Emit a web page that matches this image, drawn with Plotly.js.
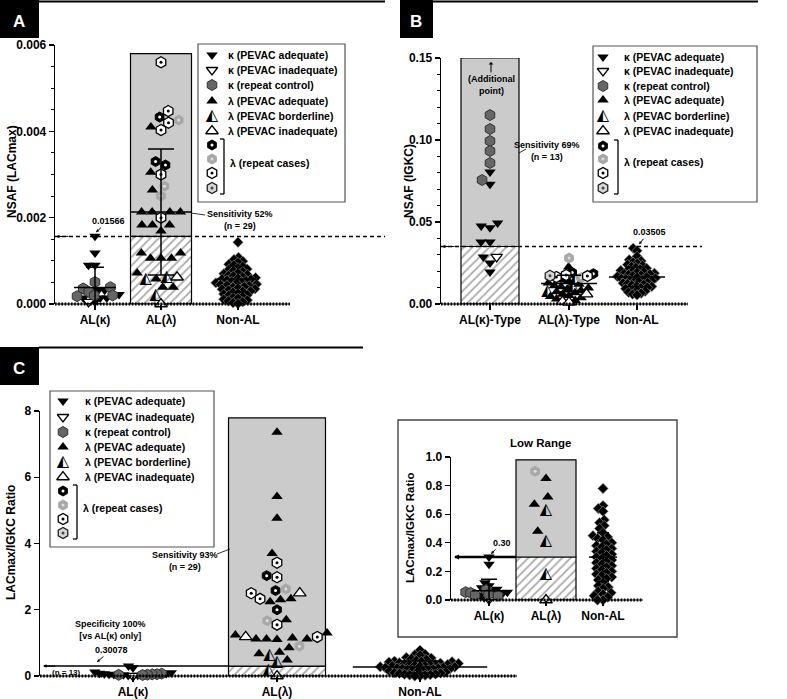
<!DOCTYPE html>
<html><head><meta charset="utf-8">
<script src="https://cdn.plot.ly/plotly-3.0.1.min.js"></script>
<style>body{margin:0;background:#fff}#chart{width:787px;height:699px}</style>
</head><body><div id="chart"></div>
<script>
// ---------------- DATA ----------------
const catsA = ['AL(κ)', 'AL(λ)', 'Non-AL'];
const catsB = ['AL(κ)-Type', 'AL(λ)-Type', 'Non-AL'];
const catsC = ['AL(κ)', 'AL(λ)', 'Non-AL'];

// Panel A : NSAF (LACmax)
const aKapAdq = [0.00157, 0.00118, 0.00090, 0.00090, 0.00032, 0.00032, 0.00022, 0.00014, 0.00014, 0.00014, 0.00005];
const aKapInad = [0.00005];
const aKapRep = [0.00051, 0.00039, 0.00036, 0.00028, 0.00020, 0.00020, 0.00018];
const aLamAdq = [0.00410, 0.00305, 0.00264, 0.00213, 0.00213, 0.00213, 0.00213, 0.00183, 0.00183, 0.00183, 0.00169,
                 0.00118, 0.00118, 0.00106, 0.00106, 0.00106, 0.00072, 0.00058, 0.00039, 0.00039];
const aLamBord = [0.00058, 0.00062, 0.00021];
const aLamInad = [0.00062, 0.00000];
const aLamRepBlack = [0.00433, 0.00330, 0.00322];
const aLamRepLight = [0.00426, 0.00273, 0.00250];
const aLamRepWhite = [0.00560, 0.00447, 0.00420, 0.00403, 0.00300, 0.00200];
const aLamRepGray = [];
const aNonAL = [0.00143, 0.00108, 0.00103, 0.00099, 0.00096, 0.00092, 0.00090, 0.00087, 0.00084, 0.00081, 0.00079,
                0.00077, 0.00075, 0.00072, 0.00070, 0.00068, 0.00066, 0.00065, 0.00063, 0.00061, 0.00060, 0.00058,
                0.00057, 0.00055, 0.00054, 0.00052, 0.00051, 0.00049, 0.00048, 0.00046, 0.00045, 0.00043, 0.00042,
                0.00040, 0.00039, 0.00037, 0.00035, 0.00034, 0.00032, 0.00030, 0.00029, 0.00027, 0.00025, 0.00023,
                0.00021, 0.00019, 0.00017, 0.00015, 0.00013, 0.00011, 0.00009, 0.00007, 0.00005, 0.00003, 0.00001];
const aThreshold = 0.001566;
const aBoxTop = 0.0058;
const aMean = [0.00038, 0.00213, 0.00058];
const aSD = [0.00047, 0.00146, 0.00030];

// Panel B : NSAF (IGKC)
const bKapAdq = [0.0805, 0.0730, 0.0494, 0.0476, 0.0465, 0.0378, 0.0378, 0.0287, 0.0250, 0.0195];
const bKapInad = [0.0287];
const bKapRep = [0.1152, 0.1067, 0.0994, 0.0933, 0.0860, 0.0756];
const bLamAdq = [0.0225, 0.0146, 0.0140, 0.0128, 0.0120, 0.0112, 0.0105, 0.0098, 0.0090, 0.0082, 0.0075, 0.0068,
                 0.0060, 0.0052, 0.0045, 0.0038, 0.0030, 0.0022];
const bLamBord = [0.0150, 0.0110, 0.0080];
const bLamInad = [0.0060, 0.0015, 0.0010];
const bLamRepBlack = [0.0192, 0.0185];
const bLamRepLight = [0.0280, 0.0160];
const bLamRepWhite = [0.0177, 0.0170, 0.0165];
const bLamRepGray = [0.0172];
const bNonAL = [0.0340, 0.0325, 0.0290, 0.0270, 0.0262, 0.0255, 0.0248, 0.0240, 0.0235, 0.0228, 0.0222, 0.0218,
                0.0212, 0.0208, 0.0204, 0.0200, 0.0196, 0.0192, 0.0188, 0.0185, 0.0182, 0.0178, 0.0175, 0.0172,
                0.0168, 0.0165, 0.0162, 0.0158, 0.0155, 0.0152, 0.0148, 0.0145, 0.0142, 0.0138, 0.0135, 0.0131,
                0.0127, 0.0123, 0.0119, 0.0115, 0.0111, 0.0107, 0.0102, 0.0098, 0.0093, 0.0088, 0.0083, 0.0078,
                0.0072, 0.0066, 0.0060, 0.0055];
const bThreshold = 0.03505;
const bBoxTop = 0.15;
const bMean = [null, 0.0125, 0.0165];
const bSD = [null, 0.0050, 0.0060];

// Panel C : LACmax/IGKC ratio
const cKapAdq = [0.301, 0.250, 0.120, 0.100, 0.085, 0.075, 0.065, 0.055, 0.045, 0.035, 0.025, 0.015];
const cKapInad = [0.005];
const cKapRep = [0.070, 0.055, 0.050, 0.040, 0.035, 0.030];
const cLamAdq = [7.36, 5.42, 4.76, 3.70, 2.33, 2.30, 2.24, 1.70, 1.30, 1.24, 1.15, 1.12, 1.12, 1.12, 1.10,
                 0.85, 0.72, 0.67, 0.48];
const cLamBord = [0.63, 0.41, 0.18];
const cLamInad = [2.50, 1.18, 0.00];
const cLamRepBlack = [3.03, 2.58, 2.00];
const cLamRepLight = [2.63, 1.67, 0.90];
const cLamRepWhite = [3.42, 2.98, 2.50, 2.33, 1.55, 1.18];
const cLamRepGray = [];
const cNonAL = [0.78, 0.66, 0.64, 0.62, 0.56, 0.54, 0.52, 0.50, 0.47, 0.45, 0.44, 0.43, 0.42, 0.40, 0.39, 0.38,
                0.37, 0.36, 0.35, 0.34, 0.33, 0.32, 0.31, 0.30, 0.29, 0.28, 0.27, 0.26, 0.25, 0.24, 0.23, 0.22,
                0.21, 0.20, 0.19, 0.18, 0.17, 0.16, 0.15, 0.14, 0.12, 0.10, 0.09, 0.08, 0.06, 0.05, 0.04, 0.03,
                0.02, 0.00, 0.00];
const cThreshold = 0.30078;
const cBoxTop = 7.79;
const cMean = [null, null, 0.27];
const cSD = [null, null, 0.18];
const iBoxTop = 0.98;
const iMean = [0.065, null, 0.30];
const iSD = [0.08, null, 0.17];

// ---------------- LAYOUT HELPERS ----------------
const W = 787, H = 699;
const FF = 'Liberation Sans, Arial, sans-serif';
const PAN = {
  A: {x: 'x',  y: 'y',  xPx: [55, 387],  yPx: [45, 304],  yr: [0, 0.006], cats: [95, 161, 238], baseEnd: 290, barW: 61, fmt: '.3f', dt: 0.002, mdt: 0.0005, errW: [30, 43, 30], cap: [9, 13, 9]},
  B: {x: 'x2', y: 'y2', xPx: [441, 760], yPx: [58, 304],  yr: [0, 0.15],  cats: [490, 569, 637], baseEnd: 688, barW: 58, fmt: '.2f', dt: 0.05, mdt: 0.01, errW: [30, 40, 40], cap: [9, 12, 12]},
  C: {x: 'x3', y: 'y3', xPx: [40, 787],  yPx: [411, 676], yr: [0, 8],     cats: [133, 277, 420], baseEnd: 517, barW: 97, fmt: 'd', dt: 2, mdt: null, errW: [60, 60, 96], cap: [12, 12, 20]},
  I: {x: 'x4', y: 'y4', xPx: [451, 677], yPx: [457, 600], yr: [0, 1.0],   cats: [489, 546, 603], baseEnd: 643, barW: 60, fmt: '.1f', dt: 0.2, mdt: null, errW: [24, 24, 20], cap: [8, 8, 6]}
};
function ppu(P) { return (P.yPx[1] - P.yPx[0]) / (P.yr[1] - P.yr[0]); }
function ypx(P, v) { return P.yPx[1] - (v - P.yr[0]) * ppu(P); }

const ST = {
  kAdq:  {symbol: 'triangle-down', color: '#000', line: {color: '#000', width: 0}, size: 10},
  kInad: {symbol: 'triangle-down', color: '#fff', line: {color: '#000', width: 1.3}, size: 10},
  kRep:  {symbol: 'hexagon', color: '#666', line: {color: '#333', width: 1}, size: 11},
  lAdq:  {symbol: 'triangle-up', color: '#000', line: {color: '#000', width: 0}, size: 10},
  lBord: {glyph: '◭', size: 16},
  lInad: {symbol: 'triangle-up', color: '#fff', line: {color: '#000', width: 1.3}, size: 11},
  hBlack:{symbol: 'hexagon', color: '#000', line: {color: '#000', width: 1}, size: 10, dot: '#fff'},
  hLight:{symbol: 'hexagon', color: '#a8a8a8', line: {color: '#a8a8a8', width: 1}, size: 10, dot: '#dedede'},
  hWhite:{symbol: 'hexagon', color: '#fff', line: {color: '#000', width: 1.3}, size: 11, dot: '#000'},
  hGray: {symbol: 'hexagon', color: '#d6d6d6', line: {color: '#222', width: 1.3}, size: 11, dot: '#444'},
  dia:   {symbol: 'diamond', color: '#000', line: {color: '#9a9a9a', width: 0.6}, size: 8}
};

const traces = [];
function mk(xs, ys, st, xa, ya) {
  if (!xs.length) return;
  if (st.glyph) {
    traces.push({type: 'scatter', mode: 'text', x: xs, y: ys, xaxis: xa, yaxis: ya, text: xs.map(() => st.glyph),
      textposition: 'middle center', textfont: {family: 'DejaVu Sans', size: st.size, color: '#000'},
      cliponaxis: false, hoverinfo: 'skip'});
    return;
  }
  traces.push({type: 'scatter', mode: 'markers', x: xs, y: ys, xaxis: xa, yaxis: ya, cliponaxis: false, hoverinfo: 'skip',
    marker: {symbol: st.symbol, size: st.size, color: st.color, line: st.line}});
  if (st.dot) traces.push({type: 'scatter', mode: 'markers', x: xs, y: ys, xaxis: xa, yaxis: ya, cliponaxis: false, hoverinfo: 'skip',
    marker: {symbol: 'circle', size: 3, color: st.dot, line: {width: 0}}});
}

// simple beeswarm: returns horizontal pixel offsets
function swarm(vals, k, d) {
  const idx = vals.map((v, i) => i).sort((a, b) => vals[a] - vals[b]);
  const placed = [], off = new Array(vals.length);
  for (const i of idx) {
    const y = vals[i] * k;
    const near = placed.filter(p => Math.abs(p.y - y) < d);
    const cands = [0];
    near.forEach(p => { const dx = Math.sqrt(d * d - (p.y - y) * (p.y - y)); cands.push(p.x + dx, p.x - dx); });
    cands.sort((a, b) => Math.abs(a) - Math.abs(b) || a - b);
    const best = cands.find(c => near.every(p => (p.x - c) ** 2 + (p.y - y) ** 2 >= d * d - 1e-6));
    off[i] = best; placed.push({x: best, y});
  }
  return off;
}
function group(P, ci, d, series) {
  const all = [];
  series.forEach((s, si) => s[0].forEach(v => all.push({v, si})));
  const off = swarm(all.map(a => a.v), ppu(P), d);
  series.forEach((s, si) => {
    const xs = [], ys = [];
    all.forEach((a, i) => { if (a.si === si) { xs.push(P.cats[ci] + off[i]); ys.push(a.v); } });
    mk(xs, ys, ST[s[1]], P.x, P.y);
  });
}
function boxBars(P, ci, thr, top) {
  traces.push({type: 'bar', x: [P.cats[ci]], y: [thr], base: [0], width: [P.barW], xaxis: P.x, yaxis: P.y, hoverinfo: 'skip',
    marker: {color: '#fff', pattern: {shape: '/', fgcolor: '#a9a9a9', bgcolor: '#fff', size: 6, solidity: 0.3}, line: {color: '#000', width: 1.2}}});
  traces.push({type: 'bar', x: [P.cats[ci]], y: [top - thr], base: [thr], width: [P.barW], xaxis: P.x, yaxis: P.y, hoverinfo: 'skip',
    marker: {color: '#cbcbcb', line: {color: '#000', width: 1.2}}});
}
function errs(P, means, sds) {
  means.forEach((m, i) => {
    if (m === null) return;
    traces.push({type: 'scatter', mode: 'markers', x: [P.cats[i]], y: [m], xaxis: P.x, yaxis: P.y, cliponaxis: false, hoverinfo: 'skip',
      marker: {symbol: 'line-ew', size: P.errW[i], color: '#000', line: {color: '#000', width: 1.5}},
      error_y: {type: 'data', array: [sds[i]], arrayminus: [Math.min(sds[i], m)], width: P.cap[i], thickness: 1.5, color: '#000'}});
  });
}
const lim = (arr, m) => arr.filter(v => v <= m);

// bars
boxBars(PAN.A, 1, aThreshold, aBoxTop);
boxBars(PAN.B, 0, bThreshold, bBoxTop);
boxBars(PAN.C, 1, cThreshold, cBoxTop);
boxBars(PAN.I, 1, cThreshold, iBoxTop);

// points
group(PAN.A, 0, 6.5, [[aKapAdq, 'kAdq'], [aKapInad, 'kInad'], [aKapRep, 'kRep']]);
group(PAN.A, 1, 10.5, [[aLamAdq, 'lAdq'], [aLamBord, 'lBord'], [aLamInad, 'lInad'], [aLamRepBlack, 'hBlack'], [aLamRepLight, 'hLight'], [aLamRepWhite, 'hWhite'], [aLamRepGray, 'hGray']]);
group(PAN.A, 2, 5, [[aNonAL, 'dia']]);

group(PAN.B, 0, 9, [[bKapAdq, 'kAdq'], [bKapInad, 'kInad'], [bKapRep, 'kRep']]);
group(PAN.B, 1, 6.5, [[bLamAdq, 'lAdq'], [bLamBord, 'lBord'], [bLamInad, 'lInad'], [bLamRepBlack, 'hBlack'], [bLamRepLight, 'hLight'], [bLamRepWhite, 'hWhite'], [bLamRepGray, 'hGray']]);
group(PAN.B, 2, 4.5, [[bNonAL, 'dia']]);

group(PAN.C, 0, 4.8, [[cKapAdq, 'kAdq'], [cKapInad, 'kInad'], [cKapRep, 'kRep']]);
group(PAN.C, 1, 10.5, [[cLamAdq, 'lAdq'], [cLamBord, 'lBord'], [cLamInad, 'lInad'], [cLamRepBlack, 'hBlack'], [cLamRepLight, 'hLight'], [cLamRepWhite, 'hWhite'], [cLamRepGray, 'hGray']]);
group(PAN.C, 2, 5.2, [[cNonAL, 'dia']]);

group(PAN.I, 0, 5, [[cKapAdq, 'kAdq'], [cKapInad, 'kInad'], [cKapRep, 'kRep']]);
group(PAN.I, 1, 13, [[lim(cLamAdq, 1), 'lAdq'], [lim(cLamBord, 1), 'lBord'], [lim(cLamInad, 1), 'lInad'], [lim(cLamRepBlack, 1), 'hBlack'], [lim(cLamRepLight, 1), 'hLight'], [lim(cLamRepWhite, 1), 'hWhite']]);
group(PAN.I, 2, 5.5, [[cNonAL, 'dia']]);

errs(PAN.A, aMean, aSD);
errs(PAN.B, bMean, bSD);
errs(PAN.C, cMean, cSD);
errs(PAN.I, iMean, iSD);

// ---------------- SHAPES / ANNOTATIONS ----------------
const shapes = [], ann = [];
const L = (x0, y0, x1, y1, w, c, dash) => shapes.push({type: 'line', xref: 'x9', yref: 'y9', x0, y0, x1, y1, layer: 'above', line: {color: c || '#000', width: w || 1, dash: dash || 'solid'}});
const R = (x0, y0, x1, y1, fill, lc, lw) => shapes.push({type: 'rect', xref: 'x9', yref: 'y9', x0, y0, x1, y1, layer: 'above', fillcolor: fill || 'rgba(0,0,0,0)', line: {color: lc || '#000', width: lw === undefined ? 1 : lw}});
function T(x, y, text, o) {
  o = o || {};
  ann.push({xref: 'x9', yref: 'y9', x, y, text, showarrow: false, xanchor: o.xa || 'center', yanchor: 'middle', textangle: o.ang || 0,
    font: {family: FF, size: o.size || 9, color: o.color || '#000', weight: o.w || 'bold'}});
}
function Arr(x, y, ax, ay, head, text, o) {
  o = o || {};
  ann.push({xref: 'x9', yref: 'y9', x, y, ax, ay, text: text || '', showarrow: true, arrowhead: head, arrowsize: o.as || 0.8,
    arrowwidth: o.aw || 1, arrowcolor: '#000', standoff: 0, startstandoff: 0,
    font: {family: FF, size: o.size || 9, color: '#000', weight: 'bold'}});
}

// panel header bars and letters
R(0, 0, 39, 38, '#000', '#000', 0); L(39, 1.5, 385, 1.5, 2);
R(400, 0, 433, 38, '#000', '#000', 0); L(433, 1.5, 758, 1.5, 2);
R(0, 347, 39, 385, '#000', '#000', 0); L(39, 347.5, 363, 347.5, 2);
T(19, 21, 'A', {size: 17, color: '#fff'});
T(416, 21, 'B', {size: 17, color: '#fff'});
T(19, 368, 'C', {size: 17, color: '#fff'});

// baselines (dotted)
for (const k of ['A', 'B', 'C', 'I']) {
  const P = PAN[k], y0 = ypx(P, 0);
  L(P.xPx[0], y0, P.baseEnd, y0, 1, '#000');
  L(P.xPx[0], y0, P.baseEnd, y0, 3.2, '#000', '1.6px,1.6px');
}
// thresholds
L(55, ypx(PAN.A, aThreshold), 385, ypx(PAN.A, aThreshold), 1.5, '#000', '4px,3px');
Arr(56, ypx(PAN.A, aThreshold), 14, 0, 2, '', {as: 0.7});
L(441, ypx(PAN.B, bThreshold), 702, ypx(PAN.B, bThreshold), 1.5, '#000', '4px,3px');
Arr(442, ypx(PAN.B, bThreshold), 14, 0, 2, '', {as: 0.7});
L(44, ypx(PAN.C, cThreshold), PAN.C.cats[1] - PAN.C.barW / 2, ypx(PAN.C, cThreshold), 1.5);
Arr(43, ypx(PAN.C, cThreshold), 14, 0, 2, '', {as: 0.7});
L(455, ypx(PAN.I, cThreshold), PAN.I.cats[1] - PAN.I.barW / 2, ypx(PAN.I, cThreshold), 2.5);
Arr(454, ypx(PAN.I, cThreshold), 12, 0, 2, '', {as: 0.5, aw: 2});

// value labels
Arr(PAN.A.cats[0] + 1, ypx(PAN.A, aKapAdq[0]) - 4, 12, -11, 2, '0.01566', {as: 0.6});
Arr(PAN.B.cats[2] + 2, ypx(PAN.B, bNonAL[0]) - 4, 10, -12, 2, '0.03505', {as: 0.6});
Arr(PAN.C.cats[0] - 36, ypx(PAN.C, cKapAdq[0]) - 4, 14, -12, 2, '0.30078', {as: 0.6});
Arr(PAN.I.cats[0] + 2, ypx(PAN.I, cKapAdq[0]) - 3, 11, -11, 2, '0.30', {as: 0.6});

// sensitivity notes
T(240, 220, 'Sensitivity 52%<br>(n = 29)');
L(191, 213, 205, 215, 0.8);
T(547, 151, 'Sensitivity 69%<br>(n = 13)');
L(519, 153, 526, 149, 0.8);
T(185, 561, 'Sensitivity 93%<br>(n = 29)');
L(217, 554, 230, 549, 0.8);
T(110, 630, 'Specificity 100%<br>[vs AL(κ) only]');
T(66, 672, '(n = 13)', {size: 8});
Arr(491, 62, 0, 12, 1, '', {as: 0.8});
T(491, 85, '(Additional<br>point)');

// axis titles
T(12, 172, 'NSAF (LACmax)', {size: 12, ang: -90});
T(409, 181, 'NSAF (IGKC)', {size: 12, ang: -90});
T(11, 543, 'LACmax/IGKC Ratio', {size: 12, ang: -90});
T(410, 528, 'LACmax/IGKC Ratio', {size: 11.5, ang: -90});
T(540, 443, 'Low Range', {size: 11.5});
R(398, 420, 677, 637, 'rgba(0,0,0,0)', '#444', 1.4);

// legends
const legRows = [['kAdq', 'κ (PEVAC adequate)'], ['kInad', 'κ (PEVAC inadequate)'], ['kRep', 'κ (repeat control)'],
                 ['lAdq', 'λ (PEVAC adequate)'], ['lBord', 'λ (PEVAC borderline)'], ['lInad', 'λ (PEVAC inadequate)']];
const legHex = ['hBlack', 'hLight', 'hWhite', 'hGray'];
function legend(box, mx, tx, rows, hex, brX, repY) {
  R(box[0], box[1], box[2], box[3], 'rgba(0,0,0,0)', '#555', 1.2);
  legRows.forEach((r, i) => { mk([mx], [rows[i]], ST[r[0]], 'x9', 'y9'); T(tx, rows[i], r[1], {size: 10.5, xa: 'left'}); });
  legHex.forEach((h, i) => mk([mx], [hex[i]], ST[h], 'x9', 'y9'));
  L(brX, hex[0] - 6, brX, hex[3] + 6, 1.3);
  L(brX - 4, hex[0] - 6, brX, hex[0] - 6, 1.3);
  L(brX - 4, hex[3] + 6, brX, hex[3] + 6, 1.3);
  T(brX + 4, repY, 'λ (repeat cases)', {size: 10.5, xa: 'left'});
}
legend([198, 44, 345, 202], 212, 226, [55, 70, 85, 101, 116, 131], [145, 159, 173, 188], 224, 163);
legend([593, 46, 757, 202], 603, 622, [57, 71, 86, 100, 116, 131], [146, 159, 173, 188], 618, 162);
legend([50, 391, 214, 547], 63, 83, [401, 417, 432, 447, 462, 477], [491, 505, 519, 533], 77, 508);

// ---------------- AXES ----------------
const layout = {width: W, height: H, margin: {l: 0, r: 0, t: 0, b: 0}, showlegend: false, barmode: 'overlay',
  paper_bgcolor: '#fff', plot_bgcolor: 'rgba(0,0,0,0)', shapes, annotations: ann, hovermode: false};
const tfont = {family: FF, size: 12, color: '#000', weight: 'bold'};
const keyMap = {A: ['xaxis', 'yaxis'], B: ['xaxis2', 'yaxis2'], C: ['xaxis3', 'yaxis3'], I: ['xaxis4', 'yaxis4']};
const catMap = {A: catsA, B: catsB, C: catsC, I: catsC};
for (const k of ['A', 'B', 'C', 'I']) {
  const P = PAN[k];
  layout[keyMap[k][0]] = {domain: [P.xPx[0] / W, P.xPx[1] / W], range: P.xPx.slice(), anchor: P.y, showgrid: false, zeroline: false,
    showline: false, tickmode: 'array', tickvals: P.cats, ticktext: catMap[k], ticks: 'outside', ticklen: 5, tickwidth: 1.2,
    tickcolor: '#000', tickfont: tfont, fixedrange: true};
  const ya = {domain: [1 - P.yPx[1] / H, 1 - P.yPx[0] / H], range: P.yr.slice(), anchor: P.x, showgrid: false, zeroline: false,
    showline: true, linewidth: 1.3, linecolor: '#000', ticks: 'outside', ticklen: 5, tickwidth: 1.3, tickcolor: '#000',
    dtick: P.dt, tick0: 0, tickformat: P.fmt, tickfont: tfont, fixedrange: true};
  if (P.mdt) ya.minor = {dtick: P.mdt, ticks: 'outside', ticklen: 3, tickwidth: 1, tickcolor: '#000', showgrid: false};
  layout[keyMap[k][1]] = ya;
}
layout.xaxis9 = {domain: [0, 1], range: [0, W], anchor: 'y9', visible: false, fixedrange: true};
layout.yaxis9 = {domain: [0, 1], range: [H, 0], anchor: 'x9', visible: false, fixedrange: true};

Plotly.newPlot('chart', traces, layout, {staticPlot: true, displayModeBar: false});
</script>
</body></html>
